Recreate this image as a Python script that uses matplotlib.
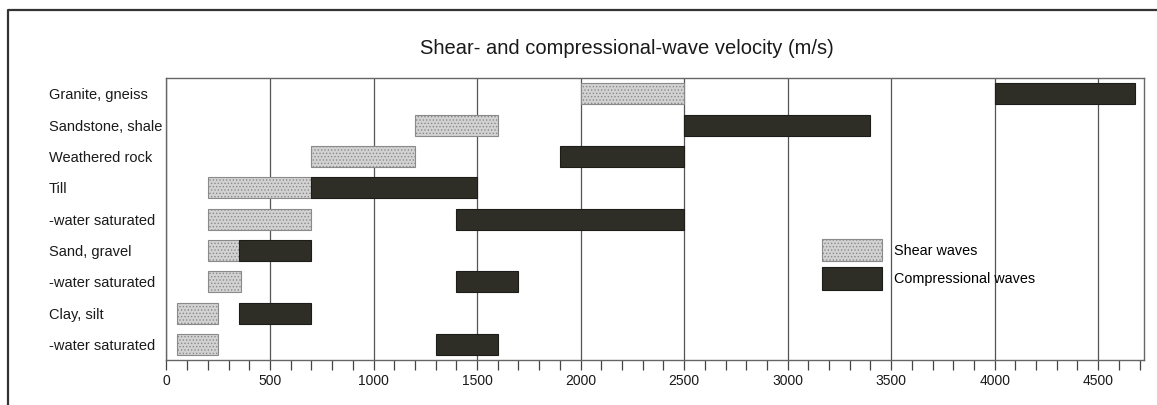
import numpy as np
import matplotlib.pyplot as plt
from matplotlib.lines import Line2D

plt.rcParams['font.family'] = ['Liberation Sans', 'DejaVu Sans']
plt.rcParams['hatch.linewidth'] = 0.6

materials = [
    "Granite, gneiss",
    "Sandstone, shale",
    "Weathered rock",
    "Till",
    "-water saturated",
    "Sand, gravel",
    "-water saturated",
    "Clay, silt",
    "-water saturated",
]

shear_low = [2000, 1200, 700, 200, 200, 200, 200, 50, 50]
shear_high = [2500, 1600, 1200, 700, 700, 350, 360, 250, 250]
comp_low = [4000, 2500, 1900, 700, 1400, 350, 1400, 350, 1300]
comp_high = [4680, 3400, 2500, 1500, 2500, 700, 1700, 700, 1600]

major_ticks = [0, 500, 1000, 1500, 2000, 2500, 3000, 3500, 4000, 4500]


def main():
    fig = plt.figure(figsize=(11.57, 4.05), dpi=100)
    ax = fig.add_axes([0.1439, 0.111, 0.845, 0.6964])

    y = np.arange(len(materials))
    shear_w = np.array(shear_high) - np.array(shear_low)
    comp_w = np.array(comp_high) - np.array(comp_low)

    ax.barh(y, shear_w, left=shear_low, height=0.67, color="#d2d2d2",
            edgecolor="#8a8a8a", hatch=".....", linewidth=0.8,
            label="Shear waves", zorder=3)
    ax.barh(y, comp_w, left=comp_low, height=0.67, color="#2e2d26",
            edgecolor="#1c1c18", linewidth=0.8,
            label="Compressional waves", zorder=3)

    ax.set_xlim(0, 4722)
    ax.set_ylim(len(materials) - 0.5, -0.5)

    ax.set_xticks(major_ticks)
    ax.set_xticks(np.arange(0, 4701, 100), minor=True)
    ax.tick_params(axis="x", which="both", direction="out", length=7,
                   width=0.9, color="#444444", labelsize=10, pad=3,
                   labelcolor="#1a1a1a")
    ax.grid(axis="x", which="major", color="#555555", linewidth=0.9, zorder=0)

    ax.set_yticks(y)
    ax.set_yticklabels(materials)
    ax.tick_params(axis="y", length=0, pad=84.6, labelsize=10.5,
                   labelcolor="#1a1a1a")
    for lbl in ax.get_yticklabels():
        lbl.set_horizontalalignment("left")

    for sp in ax.spines.values():
        sp.set_color("#666666")
        sp.set_linewidth(1.0)

    fig.text(0.5415, 0.881, "Shear- and compressional-wave velocity (m/s)",
             ha="center", va="center", fontsize=14.5, color="#1a1a1a")

    ax.legend(loc="upper left", bbox_to_anchor=(0.6645, 0.45), frameon=False,
              fontsize=10.4, handlelength=4.15, handleheight=2.0,
              labelspacing=0.42, handletextpad=0.83, borderaxespad=0)

    # scanned page border
    fig.add_artist(Line2D([8 / 1157, 8 / 1157, 1.0], [0.0, 1 - 10 / 405, 1 - 10 / 405],
                          transform=fig.transFigure, color="#333333", linewidth=1.6))

    fig.savefig("out.png", dpi=100)


if __name__ == "__main__":
    main()
